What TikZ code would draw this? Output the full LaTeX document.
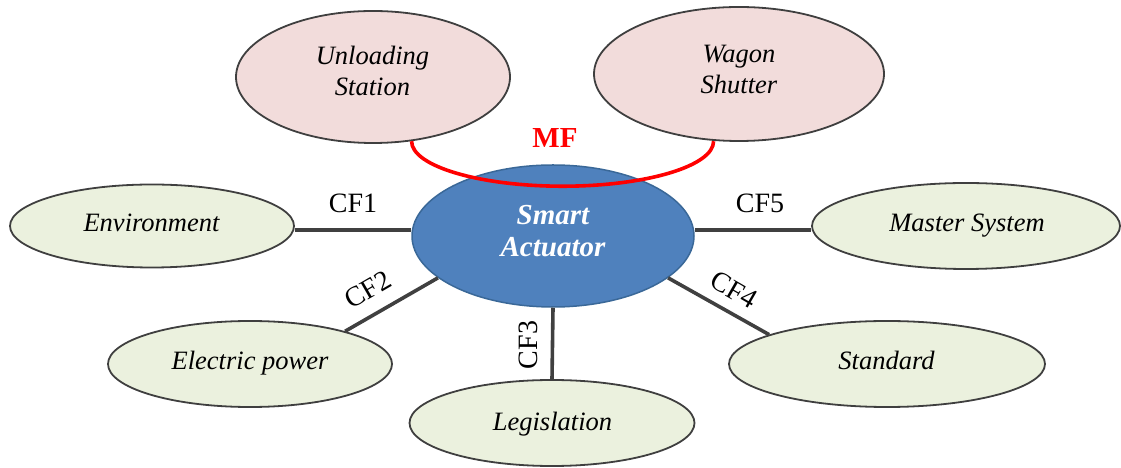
\documentclass[tikz,border=0pt]{standalone}
\usepackage{fontspec}
\setmainfont{Liberation Serif}
\usetikzlibrary{shapes.geometric}
\definecolor{pinkfill}{HTML}{F2DCDB}
\definecolor{greenfill}{HTML}{EBF1DE}
\definecolor{bluefill}{HTML}{4F81BD}
\definecolor{blueline}{HTML}{3A6898}
\definecolor{outline}{HTML}{3F3F3F}
\definecolor{connc}{HTML}{404040}
\definecolor{mfred}{HTML}{FF0000}
\tikzset{
  ell/.style={ellipse, draw=outline, line width=1.8pt, inner sep=0pt},
  top/.style={ell, fill=pinkfill},
  side/.style={ell, fill=greenfill},
  center/.style={ellipse, draw=blueline, line width=1.5pt, fill=bluefill, inner sep=0pt},
  etext/.style={inner sep=0pt, align=center, font=\fontsize{26.5}{31}\selectfont\itshape},
  ctext/.style={inner sep=0pt, align=center, text=white, font=\fontsize{29}{31.5}\selectfont\bfseries\itshape},
  conn/.style={draw=connc, line width=3.6pt},
  cflabel/.style={inner sep=0pt, font=\fontsize{28}{32}\selectfont},
  mflabel/.style={inner sep=0pt, text=mfred, font=\fontsize{29}{33}\selectfont\bfseries},
  mfarc/.style={draw=mfred, line width=3.6pt}
}
\begin{document}
\begin{tikzpicture}[x=1pt,y=1pt]
\useasboundingbox (0,0) rectangle (1121,468);
% top ellipses
\node[top, minimum width=274pt, minimum height=132pt] (us) at (373,391) {};
\node[top, minimum width=290pt, minimum height=134pt] (ws) at (739,394) {};
% side ellipses
\node[side, minimum width=284pt, minimum height=83pt] (env) at (152,242) {};
\node[side, minimum width=308pt, minimum height=86pt] (ms) at (966,242) {};
\node[side, minimum width=284pt, minimum height=86pt] (ep) at (250,104) {};
\node[side, minimum width=285pt, minimum height=86pt] (leg) at (552,45) {};
\node[side, minimum width=316pt, minimum height=86pt] (std) at (887,104) {};
% centre
\node[center, minimum width=282pt, minimum height=142pt] (act) at (553,232) {};
% texts
\node[etext] (ust) at (372.5,397.4) {Unloading\\Station};
\node[etext] (wst) at (739,398.5) {Wagon\\Shutter};
\node[etext, anchor=base] (envt) at (151.5,236) {Environment};
\node[etext, anchor=base] (mst) at (967,236) {Master System};
\node[etext, anchor=base] (ept) at (250,98) {Electric power};
\node[etext, anchor=base] (legt) at (552.5,37) {Legislation};
\node[etext, anchor=base] (stdt) at (886.5,98) {Standard};
\node[ctext] (actt) at (553,236.8) {Smart\\Actuator};
% connectors
\draw[conn] ([yshift=-4pt]env.east) -- ([yshift=6pt]act.west);
\draw[conn] ([yshift=6pt]act.east) -- ([yshift=-4pt]ms.west);
\draw[conn] (ep.19) -- (act.200);
\draw[conn] (act.south) -- (leg.north);
\draw[conn] (act.340) -- (std.166);
% MF arc
\draw[mfarc] (us.-59) arc[start angle=180, end angle=360, x radius=151, y radius=45];
% labels
\node[cflabel] (cf1) at (353,265) {CF1};
\node[cflabel] (cf5) at (760,265) {CF5};
\node[cflabel, rotate=30] (cf2) at (368,178) {CF2};
\node[cflabel, rotate=90] (cf3) at (528,123) {CF3};
\node[cflabel, rotate=-30] (cf4) at (734,178) {CF4};
\node[mflabel] (mf) at (555,330) {MF};
\end{tikzpicture}
\end{document}
